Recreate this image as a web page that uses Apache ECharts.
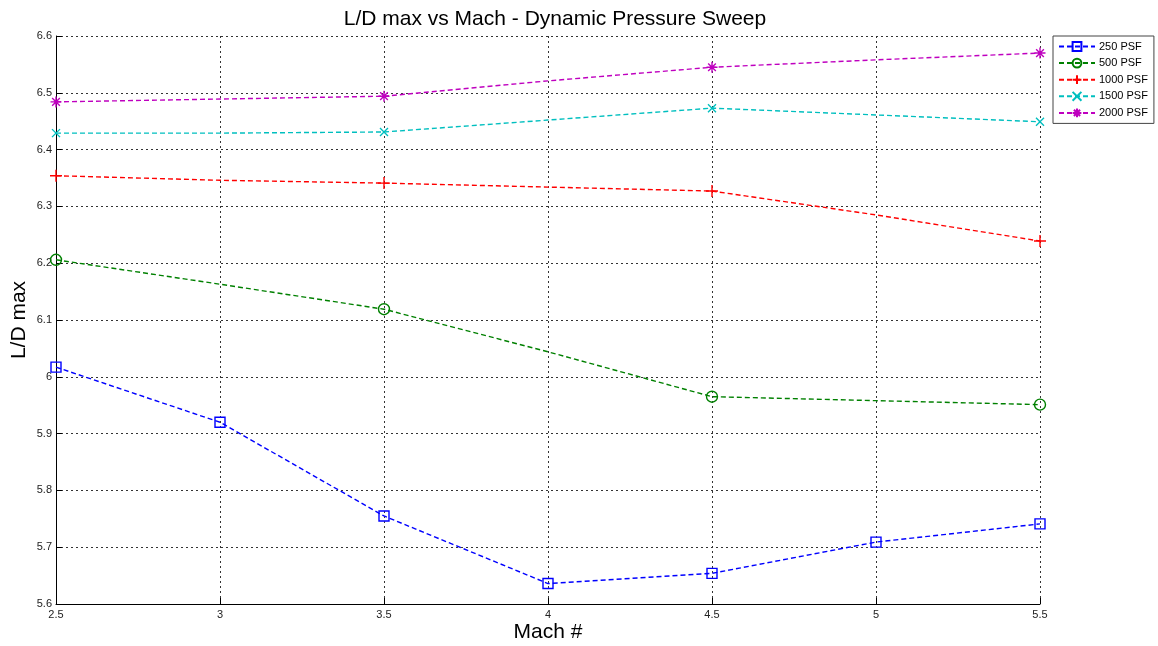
<!DOCTYPE html>
<html>
<head>
<meta charset="utf-8">
<style>
  html, body { margin: 0; padding: 0; background: #fff; }
  #chart { width: 1158px; height: 646px; }
</style>
<script src="https://cdn.jsdelivr.net/npm/echarts@6/dist/echarts.min.js"></script>
</head>
<body>
<div id="chart"></div>
<script>
// Mach numbers sampled along the sweep
const mach = [2.5, 3, 3.5, 4, 4.5, 5, 5.5];

// L/D max at each Mach number, one list per dynamic pressure
const ld250  = [6.017, 5.920, 5.755, 5.636, 5.654, 5.709, 5.741];
const ld500  = [6.206, 6.163, 6.119, 6.044, 5.965, 5.958, 5.951];
const ld1000 = [6.354, 6.346, 6.341, 6.334, 6.327, 6.285, 6.239];
const ld1500 = [6.429, 6.429, 6.431, 6.452, 6.473, 6.461, 6.449];
const ld2000 = [6.484, 6.489, 6.494, 6.521, 6.545, 6.558, 6.570];

// Which samples carry a marker (the 250 PSF run marks every point)
const markAll = [true, true, true, true, true, true, true];
const markHalf = [true, false, true, false, true, false, true];

const seriesNames = ['250 PSF', '500 PSF', '1000 PSF', '1500 PSF', '2000 PSF'];
const xTicks = ['2.5', '3', '3.5', '4', '4.5', '5', '5.5'];

const defs = [
  { name: seriesNames[0], vals: ld250,  marks: markAll,  color: '#0000ff',
    symbol: 'path://M0,0L10,0L10,10L0,10Z', size: 10 },
  { name: seriesNames[1], vals: ld500,  marks: markHalf, color: '#008000',
    symbol: 'circle', size: 11 },
  { name: seriesNames[2], vals: ld1000, marks: markHalf, color: '#ff0000',
    symbol: 'path://M5,0L5,10M0,5L10,5', size: 12 },
  { name: seriesNames[3], vals: ld1500, marks: markHalf, color: '#00bfbf',
    symbol: 'path://M0,0L10,10M10,0L0,10', size: 8 },
  { name: seriesNames[4], vals: ld2000, marks: markHalf, color: '#bf00bf',
    symbol: 'path://M5,0L5,10M0,5L10,5M1.5,1.5L8.5,8.5M8.5,1.5L1.5,8.5', size: 11 }
];

const series = defs.map(d => ({
  name: d.name,
  type: 'line',
  symbol: d.symbol,
  symbolSize: d.size,
  showAllSymbol: true,
  z: 3,
  lineStyle: { color: d.color, width: 1.4, type: [5, 3] },
  itemStyle: { color: 'rgba(0,0,0,0)', borderColor: d.color, borderWidth: 1.4 },
  emphasis: { disabled: true },
  data: mach.map((m, i) => d.marks[i]
    ? { value: [m, d.vals[i]] }
    : { value: [m, d.vals[i]], symbol: 'none' })
}));

const chart = echarts.init(document.getElementById('chart'), null, { renderer: 'canvas' });

const font = 'Liberation Sans, Arial, sans-serif';

chart.setOption({
  backgroundColor: '#ffffff',
  animation: false,
  textStyle: { fontFamily: font },
  title: {
    text: 'L/D max vs Mach - Dynamic Pressure Sweep',
    left: 550,
    top: 4,
    textAlign: 'center',
    textStyle: { fontFamily: font, fontSize: 21, fontWeight: 'normal', color: '#000' }
  },
  legend: {
    orient: 'vertical',
    left: 1053,
    top: 36,
    padding: [5, 6, 5, 5],
    itemWidth: 36,
    itemHeight: 11,
    itemGap: 5.6,
    borderColor: '#444',
    borderWidth: 1,
    backgroundColor: '#fff',
    textStyle: { fontFamily: font, fontSize: 11, color: '#000', padding: [0, 0, 0, -1] },
    data: seriesNames
  },
  grid: {
    left: 56, right: 118, top: 36, bottom: 42,
    containLabel: false,
    outerBoundsMode: 'none'
  },
  xAxis: {
    type: 'value',
    min: 2.5,
    max: 5.5,
    interval: 0.5,
    name: 'Mach #',
    nameLocation: 'middle',
    nameGap: 18,
    nameMoveOverlap: false,
    nameTextStyle: { fontFamily: font, fontSize: 21, color: '#000' },
    axisLine: { show: true, onZero: false, lineStyle: { color: '#000', width: 1 } },
    axisTick: { show: true, inside: true, length: 6, lineStyle: { color: '#000' } },
    axisLabel: {
      fontFamily: font, fontSize: 11, color: '#222', margin: 5,
      formatter: v => xTicks[Math.round((v - 2.5) / 0.5)] ?? String(v)
    },
    splitLine: { show: true, lineStyle: { color: '#333', type: [2, 3], width: 1 } }
  },
  yAxis: {
    type: 'value',
    min: 5.6,
    max: 6.6,
    interval: 0.1,
    name: 'L/D max',
    nameLocation: 'middle',
    nameGap: 26,
    nameMoveOverlap: false,
    nameTextStyle: { fontFamily: font, fontSize: 21, color: '#000' },
    axisLine: { show: true, onZero: false, lineStyle: { color: '#000', width: 1 } },
    axisTick: { show: true, inside: true, length: 6, lineStyle: { color: '#000' } },
    axisLabel: {
      fontFamily: font, fontSize: 11, color: '#222', margin: 4,
      formatter: v => String(+v.toFixed(1))
    },
    splitLine: { show: true, lineStyle: { color: '#333', type: [2, 3], width: 1 } }
  },
  series: series
});
</script>
</body>
</html>
